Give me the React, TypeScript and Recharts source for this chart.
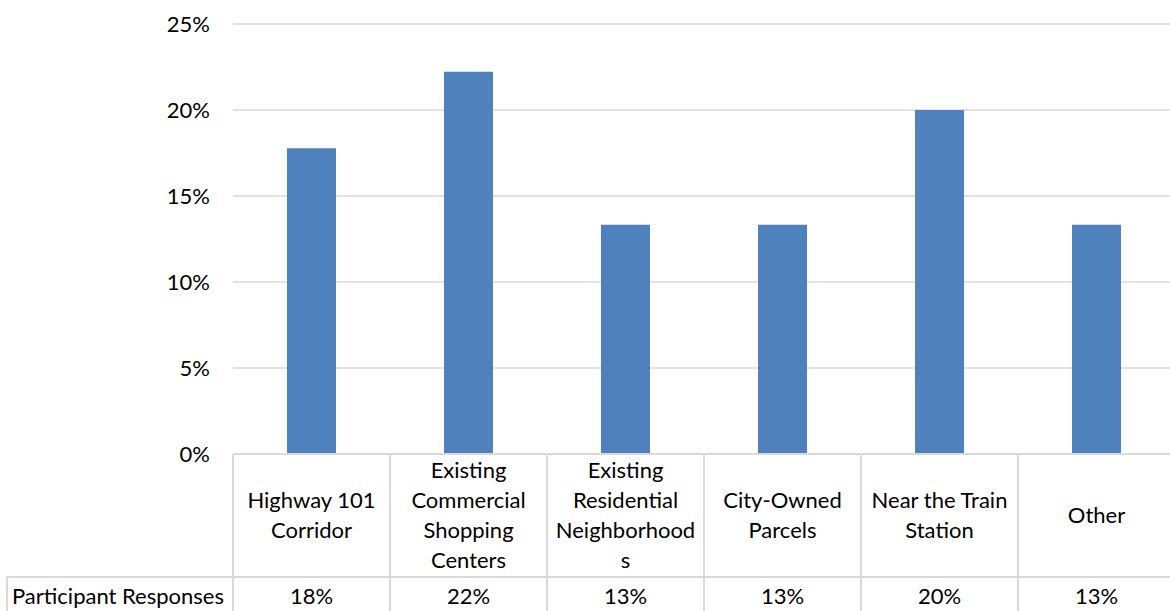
import { BarChart, Bar, XAxis, YAxis, CartesianGrid } from "recharts"

const categories = [
    "Highway 101 Corridor",
    "Existing Commercial Shopping Centers",
    "Existing Residential Neighborhoods",
    "City-Owned Parcels",
    "Near the Train Station",
    "Other",
]
// how each category label wraps in the table header row
const labelLines = [
    ["Highway 101", "Corridor"],
    ["Existing", "Commercial", "Shopping", "Centers"],
    ["Existing", "Residential", "Neighborhood", "s"],
    ["City-Owned", "Parcels"],
    ["Near the Train", "Station"],
    ["Other"],
]
const responses = [0.1778, 0.2222, 0.1333, 0.1333, 0.2, 0.1333]
const yTicks = [0, 0.05, 0.1, 0.15, 0.2, 0.25]
const seriesName = "Participant Responses"

const CHART_W = 1180
const CHART_H = 611
const M_TOP = 24
const M_RIGHT = 5
const Y_W = 233
const X_H = 157
const COL_W = (CHART_W - Y_W - M_RIGHT) / categories.length
const LABEL_ROW_H = 123
const LINE_H = 30
const FONT = "Lato, 'Open Sans', sans-serif"
const FONT_SIZE = 22
const GRID = "#d9d9d9"

const data = categories.map((name, i) => ({ name, value: responses[i] }))

const pct = (v: number) => `${Math.round(v * 100)}%`

function TableTick(props: any) {
    const { x, y, payload } = props
    const i = payload.index
    const left = x - COL_W / 2
    const lines = labelLines[i]
    const mid = y + LABEL_ROW_H / 2
    const rowY = y + LABEL_ROW_H
    const txt = { fontFamily: FONT, fontSize: FONT_SIZE, fill: "#000" }
    return (
        <g>
            <line x1={left} y1={y} x2={left} y2={CHART_H} stroke={GRID} strokeWidth={2} />
            {i === categories.length - 1 && (
                <line x1={left + COL_W} y1={y} x2={left + COL_W} y2={CHART_H} stroke={GRID} strokeWidth={2} />
            )}
            {i === 0 && (
                <g>
                    <line x1={7} y1={rowY} x2={CHART_W} y2={rowY} stroke={GRID} strokeWidth={2} />
                    <line x1={7} y1={rowY} x2={7} y2={CHART_H} stroke={GRID} strokeWidth={2} />
                    <text x={12} y={rowY + 19} dy="0.35em" {...txt}>
                        {seriesName}
                    </text>
                </g>
            )}
            <text textAnchor="middle" {...txt}>
                {lines.map((l, k) => (
                    <tspan key={k} x={x} y={mid + (k - (lines.length - 1) / 2) * LINE_H} dy="0.35em">
                        {l}
                    </tspan>
                ))}
            </text>
            <text x={x} y={rowY + 19} dy="0.35em" textAnchor="middle" {...txt}>
                {pct(responses[i])}
            </text>
        </g>
    )
}

export default function App() {
    return (
        <div style={{ position: "absolute", left: 0, top: 0, width: 1170, height: 611, overflow: "hidden", background: "#fff" }}>
            <BarChart
                width={CHART_W}
                height={CHART_H}
                data={data}
                margin={{ top: M_TOP, right: M_RIGHT, bottom: 0, left: 0 }}
            >
                <CartesianGrid vertical={false} stroke={GRID} strokeWidth={1.5} />
                <XAxis
                    dataKey="name"
                    height={X_H}
                    interval={0}
                    tickLine={false}
                    tickSize={0}
                    tickMargin={0}
                    axisLine={{ stroke: GRID, strokeWidth: 2 }}
                    tick={<TableTick />}
                />
                <YAxis
                    width={Y_W}
                    domain={[0, 0.25]}
                    ticks={yTicks}
                    tickFormatter={pct}
                    axisLine={false}
                    tickLine={false}
                    tickSize={0}
                    tickMargin={23}
                    tick={{ fontFamily: FONT, fontSize: FONT_SIZE, fill: "#000" }}
                />
                <Bar dataKey="value" fill="#4f81bd" barSize={49} isAnimationActive={false} />
            </BarChart>
        </div>
    )
}
